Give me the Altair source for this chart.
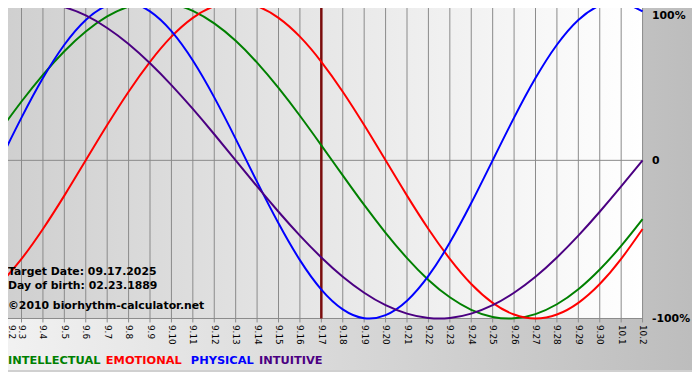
import json
import altair as alt
import pandas as pd

days = ["9.2", "9.3", "9.4", "9.5", "9.6", "9.7", "9.8", "9.9", "9.10", "9.11",
        "9.12", "9.13", "9.14", "9.15", "9.16", "9.17", "9.18", "9.19", "9.20",
        "9.21", "9.22", "9.23", "9.24", "9.25", "9.26", "9.27", "9.28", "9.29",
        "9.30", "10.1", "10.2"]

intellectual = [0.189, 0.372, 0.541, 0.690, 0.815, 0.910, 0.972, 0.999, 0.990, 0.945,
                0.866, 0.756, 0.618, 0.458, 0.282, 0.095, -0.095, -0.282, -0.458, -0.618,
                -0.756, -0.866, -0.945, -0.990, -0.999, -0.972, -0.910, -0.815, -0.690,
                -0.541, -0.372]
emotional = [-0.782, -0.623, -0.434, -0.223, 0.0, 0.223, 0.434, 0.623, 0.782, 0.901,
             0.975, 1.0, 0.975, 0.901, 0.782, 0.623, 0.434, 0.223, 0.0, -0.223,
             -0.434, -0.623, -0.782, -0.901, -0.975, -1.0, -0.975, -0.901, -0.782,
             -0.623, -0.434]
physical = [0.0, 0.270, 0.520, 0.731, 0.888, 0.979, 0.998, 0.942, 0.817, 0.631,
            0.398, 0.136, -0.136, -0.398, -0.631, -0.817, -0.942, -0.998, -0.979, -0.888,
            -0.731, -0.520, -0.270, 0.0, 0.270, 0.520, 0.731, 0.888, 0.979, 0.998, 0.942]
intuitive = [0.969, 0.997, 0.997, 0.969, 0.916, 0.837, 0.736, 0.614, 0.476, 0.325,
             0.165, 0.0, -0.165, -0.325, -0.476, -0.614, -0.736, -0.837, -0.916, -0.969,
             -0.997, -0.997, -0.969, -0.916, -0.837, -0.736, -0.614, -0.476, -0.325,
             -0.165, 0.0]

series_names = ["INTELLECTUAL", "EMOTIONAL", "PHYSICAL", "INTUITIVE"]
series_colors = ["#008000", "#ff0000", "#0000ff", "#4b0082"]
target_index = [15]
hlines = [0, -1]
y_ticks = [-1, 0, 1]

info_lines = ["Target Date: 09.17.2025", "Day of birth: 02.23.1889",
              "\u00a92010 biorhythm-calculator.net"]

rows = []
for name, vals in zip(series_names, [intellectual, emotional, physical, intuitive]):
    for i, v in enumerate(vals):
        rows.append({"d": i, "series": name, "value": v})
df = pd.DataFrame(rows)
day_df = pd.DataFrame({"d": list(range(len(days)))})
one = pd.DataFrame({"k": [0]})

xscale = alt.Scale(domain=[0, 30], range=[-8, 642], nice=False, zero=False)
yscale = alt.Scale(domain=[-1, 1], range=[312, -8], nice=False, zero=False)

xaxis = alt.Axis(title=None, grid=False, ticks=False, domain=False,
                 values=list(range(len(days))),
                 labelExpr=json.dumps(days) + "[datum.value]",
                 labelAngle=90, labelAlign="left", labelBaseline="middle",
                 labelFont="DejaVu Sans", labelFontSize=9, labelColor="black",
                 labelOffset={"condition": {"test": "datum.value == 0", "value": 12},
                              "value": 0},
                 labelPadding=6, labelOverlap=False, labelFlush=False, zindex=1)
yaxis = alt.Axis(title=None, grid=False, ticks=False, domain=False, orient="right",
                 values=y_ticks,
                 labelExpr="datum.value == 1 ? '100%' : (datum.value == 0 ? '0' : '-100%')",
                 labelFont="DejaVu Sans", labelFontSize=11, labelFontWeight="bold",
                 labelColor="black", labelPadding=9, labelAlign="left",
                 labelBaseline={"condition": {"test": "datum.value == 1", "value": "top"},
                                "value": "middle"},
                 labelOffset={"condition": {"test": "datum.value == 1", "value": 8},
                              "value": 0},
                 labelOverlap=False, labelFlush=False, zindex=1)

bg = alt.Chart(one).mark_rect(
    fill=alt.Gradient(gradient="linear",
                      stops=[alt.GradientStop(color="#f2f2f2", offset=0),
                             alt.GradientStop(color="#bdbdbd", offset=1)],
                      x1=0, x2=1, y1=0, y2=0)
).encode(x=alt.value(-8), x2=alt.value(692), y=alt.value(-8), y2=alt.value(364))

plotbg = alt.Chart(one).mark_rect(
    fill=alt.Gradient(gradient="linear",
                      stops=[alt.GradientStop(color="#cfcfcf", offset=0),
                             alt.GradientStop(color="#ffffff", offset=1)],
                      x1=0, x2=1, y1=0, y2=0)
).encode(x=alt.value(-8), x2=alt.value(642), y=alt.value(-8), y2=alt.value(312))

vgrid = alt.Chart(day_df).mark_rule(color="#8a8a8a", strokeWidth=1).encode(
    x=alt.X("d:Q", scale=xscale, axis=xaxis),
    y=alt.value(-8), y2=alt.value(316))

hgrid = alt.Chart(pd.DataFrame({"v": hlines})).mark_rule(color="#8a8a8a", strokeWidth=1).encode(
    y=alt.Y("v:Q", scale=yscale, axis=yaxis))

target = alt.Chart(pd.DataFrame({"d": target_index})).mark_rule(
    color="#7a0c0c", strokeWidth=2.5).encode(
    x=alt.X("d:Q", scale=xscale, axis=xaxis), y=alt.value(-8), y2=alt.value(312))

lines = alt.Chart(df).mark_line(strokeWidth=2, interpolate="natural").encode(
    x=alt.X("d:Q", scale=xscale, axis=xaxis),
    y=alt.Y("value:Q", scale=yscale, axis=yaxis),
    color=alt.Color("series:N", scale=alt.Scale(domain=series_names, range=series_colors),
                    legend=None),
    detail="series:N")

texts = []
for txt, yy in zip(info_lines, [268, 282, 302]):
    texts.append(alt.Chart(one).mark_text(
        text=txt, align="left", baseline="alphabetic", font="DejaVu Sans",
        fontWeight="bold", fontSize=11, color="black").encode(
        x=alt.value(0), y=alt.value(yy)))

for name, col, xx in zip(series_names, series_colors, [0, 99, 185, 254]):
    texts.append(alt.Chart(one).mark_text(
        text=name, align="left", baseline="alphabetic", font="DejaVu Sans",
        fontWeight="bold", fontSize=11.5, color=col).encode(
        x=alt.value(xx), y=alt.value(358)))

chart = alt.layer(bg, plotbg, vgrid, hgrid, target, lines, *texts).properties(
    width=642, height=312,
    padding={"left": 0, "top": 0, "right": 50, "bottom": 52},
    autosize=alt.AutoSizeParams(type="none"),
    background="#d0d0d0",
).configure_view(stroke=None)

chart.save("out.html", embed_options={"renderer": "svg", "actions": False})
